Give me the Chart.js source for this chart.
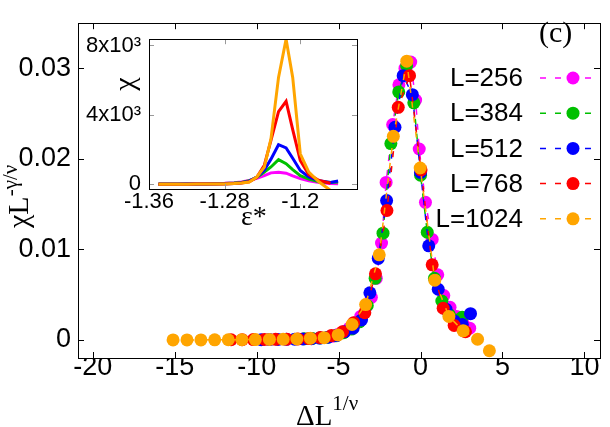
<!DOCTYPE html>
<html>
<head>
<meta charset="utf-8">
<script src="https://cdn.jsdelivr.net/npm/chart.js@4.4.1/dist/chart.umd.min.js"></script>
<style>
  html, body { margin: 0; padding: 0; background: #fff; }
  #wrap { position: relative; width: 610px; height: 427px; }
  #mainChart { position: absolute; left: 0; top: 0; }
  #insetChart { position: absolute; left: 80px; top: 18px; }
</style>
</head>
<body>
<div id="wrap">
  <canvas id="mainChart" width="610" height="427"></canvas>
  <canvas id="insetChart" width="285" height="212"></canvas>
</div>
<script>
'use strict';
// series names and colours
const seriesNames = ['L=256', 'L=384', 'L=512', 'L=768', 'L=1024'];
const seriesColors = ['#ff00ff', '#00c000', '#0000ff', '#ff0000', '#ffa500'];

// main plot: scaled data, x = ΔL^(1/ν), y = χL^(-γ/ν)
const x256 = [-5.4, -5.05, -4.7, -4.35, -4.0, -3.65, -3.3, -3.0, -2.7, -2.38, -2.1, -1.7, -1.32, -0.95, -0.6, -0.3, -0.08, 0.3, 0.71, 1.05, 1.42, 1.8, 2.2, 2.6, 3.0];
const y256 = [0.0004, 0.0006, 0.0009, 0.0013, 0.0019, 0.0026, 0.0037, 0.0047, 0.0068, 0.0107, 0.0174, 0.0238, 0.0282, 0.0300, 0.0307, 0.0265, 0.0211, 0.0152, 0.0111, 0.0072, 0.0049, 0.0036, 0.0026, 0.0018, 0.0013];
const x384 = [-7.09, -6.61, -6.13, -5.65, -5.17, -4.69, -4.21, -3.73, -3.25, -2.77, -2.29, -1.81, -1.33, -0.85, -0.41, 0.0, 0.41, 0.85, 1.3, 1.75, 2.15, 2.54];
const y384 = [0.00012, 0.00016, 0.00022, 0.0003, 0.00045, 0.0008, 0.0012, 0.0020, 0.0038, 0.0068, 0.0118, 0.0217, 0.0274, 0.0303, 0.0262, 0.0182, 0.0119, 0.0068, 0.0043, 0.0028, 0.0022, 0.0025];
const x512 = [-9.72, -9.21, -8.7, -8.19, -7.68, -7.17, -6.66, -6.15, -5.64, -5.13, -4.62, -4.11, -3.6, -3.09, -2.58, -2.07, -1.56, -1.06, -0.5, 0.0, 0.5, 1.08, 1.55, 2.05, 2.55, 3.05];
const y512 = [0.00003, 0.00004, 0.00005, 0.00006, 0.00008, 0.0001, 0.00013, 0.0002, 0.0003, 0.00048, 0.0009, 0.0013, 0.0022, 0.0052, 0.0090, 0.0154, 0.0235, 0.0292, 0.0271, 0.0185, 0.0104, 0.0056, 0.0034, 0.0021, 0.0017, 0.0029];
const x768 = [-11.56, -10.88, -10.2, -9.52, -8.84, -8.16, -7.48, -6.8, -6.12, -5.44, -4.76, -4.08, -3.4, -2.75, -2.05, -1.36, -0.67, 0.03, 0.71, 1.38, 2.05, 2.74];
const y768 = [0.00002, 0.00003, 0.00004, 0.00005, 0.00006, 0.00008, 0.00011, 0.00015, 0.00026, 0.00048, 0.0009, 0.0019, 0.0030, 0.0073, 0.0143, 0.0257, 0.0292, 0.0188, 0.0083, 0.0035, 0.0016, 0.0009];
const x1024 = [-15.1, -14.25, -13.4, -12.56, -11.73, -10.9, -10.08, -9.22, -8.38, -7.55, -6.72, -5.88, -5.03, -4.18, -3.35, -2.52, -1.66, -0.84, -0.02, 0.87, 1.73, 2.6, 3.48, 4.2];
const y1024 = [0.0, 0.0, 0.0, 0.00001, 0.00002, 0.00003, 0.00004, 0.00005, 0.00007, 0.0001, 0.00018, 0.00025, 0.00055, 0.0017, 0.0039, 0.0094, 0.0225, 0.0308, 0.019, 0.0066, 0.0026, 0.001, 0.00007, -0.0012];

const mainX = [x256, x384, x512, x768, x1024];
const mainY = [y256, y384, y512, y768, y1024];
const mainXTicks = [-20, -15, -10, -5, 0, 5, 10];
const mainYTicks = [0, 0.01, 0.02, 0.03];
const mainYTickLabels = ['0', '0.01', '0.02', '0.03'];

// inset: raw susceptibility χ against ε*
const insetEps = [-1.350, -1.340, -1.330, -1.320, -1.310, -1.300, -1.290, -1.280, -1.270, -1.262, -1.254, -1.246, -1.238, -1.231, -1.223, -1.215, -1.208, -1.200, -1.191, -1.180, -1.168, -1.160];
const chi256 = [20, 20, 25, 25, 30, 35, 45, 60, 90, 130, 220, 350, 500, 660, 690, 640, 490, 330, 200, 100, 50, 30];
const chi384 = [15, 15, 15, 20, 20, 25, 30, 40, 70, 110, 200, 400, 700, 1000, 1420, 1190, 850, 500, 300, 150, 110, 130];
const chi512 = [10, 10, 10, 15, 15, 20, 25, 30, 50, 90, 180, 420, 820, 1450, 2280, 2100, 1500, 800, 430, 200, 110, 190];
const chi768 = [10, 10, 10, 10, 15, 15, 20, 25, 40, 70, 150, 400, 1100, 2525, 4190, 4780, 3150, 1377, 560, 220, 60, null];
const chi1024 = [10, 10, 10, 10, 15, 15, 20, 25, 40, 70, 130, 420, 990, 2620, 6160, 8360, 6160, 1760, 700, 130, -350, null];
const insetChi = [chi256, chi384, chi512, chi768, chi1024];
const insetXTicks = [-1.36, -1.28, -1.2];
const insetXTickLabels = ['-1.36', '-1.28', '-1.2'];
const insetYTicks = [0, 4000, 8000];
const insetYTickLabels = ['0', '4x10³', '8x10³'];

// frame with inward ticks on all four sides
const frameTicks = {
  id: 'frameTicks',
  afterDraw(chart, args, opts) {
    const ctx = chart.ctx;
    const a = chart.chartArea;
    const xs = chart.scales.x;
    const ys = chart.scales.y;
    const len = opts.len;
    ctx.save();
    ctx.lineWidth = 1;
    ctx.strokeStyle = opts.tickColor;
    ctx.beginPath();
    xs.ticks.forEach(function (t) {
      const px = Math.round(xs.getPixelForValue(t.value)) + 0.5;
      ctx.moveTo(px, a.bottom); ctx.lineTo(px, a.bottom - len);
      ctx.moveTo(px, a.top); ctx.lineTo(px, a.top + len);
    });
    ys.ticks.forEach(function (t) {
      const py = Math.round(ys.getPixelForValue(t.value)) + 0.5;
      ctx.moveTo(a.left, py); ctx.lineTo(a.left + len, py);
      ctx.moveTo(a.right, py); ctx.lineTo(a.right - len, py);
    });
    ctx.stroke();
    ctx.strokeStyle = '#000';
    ctx.strokeRect(Math.round(a.left) + 0.5, Math.round(a.top) + 0.5, Math.round(a.right - a.left), Math.round(a.bottom - a.top));
    ctx.restore();
  }
};

// text with a raised superscript
function drawSup(ctx, x, y, base, sup, baseFont, supFont, rise) {
  ctx.font = baseFont;
  ctx.fillText(base, x, y);
  const w = ctx.measureText(base).width;
  ctx.font = supFont;
  ctx.fillText(sup, x + w, y - rise);
}

// axis titles, panel tag and legend of the main plot
const mainDecor = {
  id: 'mainDecor',
  afterDraw(chart) {
    const ctx = chart.ctx;
    ctx.save();
    ctx.fillStyle = '#000';
    ctx.textBaseline = 'alphabetic';
    ctx.textAlign = 'left';
    drawSup(ctx, 296, 425, 'ΔL', '1/ν', '29px "Liberation Serif"', '21px "Liberation Serif"', 15);

    ctx.save();
    ctx.translate(28, 228);
    ctx.rotate(-Math.PI / 2);
    drawSup(ctx, 0, 0, 'χL', '-γ/ν', '30px "Liberation Serif"', '21px "Liberation Serif"', 11);
    ctx.restore();

    ctx.font = '30px "Liberation Serif"';
    ctx.fillText('(c)', 539, 42);

    // legend
    ctx.font = '26px "Liberation Sans"';
    ctx.textAlign = 'right';
    ctx.textBaseline = 'middle';
    for (let i = 0; i < seriesNames.length; i++) {
      const ly = 78 + 35.2 * i;
      ctx.fillStyle = '#000';
      ctx.fillText(seriesNames[i], 523, ly + 1);
      ctx.strokeStyle = seriesColors[i];
      ctx.lineWidth = 1.5;
      ctx.setLineDash([6, 9]);
      ctx.beginPath();
      ctx.moveTo(540, ly);
      ctx.lineTo(600, ly);
      ctx.stroke();
      ctx.setLineDash([]);
      ctx.fillStyle = seriesColors[i];
      ctx.beginPath();
      ctx.arc(573, ly, 6.5, 0, Math.PI * 2);
      ctx.fill();
    }
    ctx.restore();
  }
};

const insetDecor = {
  id: 'insetDecor',
  afterDraw(chart) {
    const ctx = chart.ctx;
    ctx.save();
    ctx.fillStyle = '#000';
    ctx.textAlign = 'left';
    ctx.textBaseline = 'alphabetic';
    ctx.font = '28px "Liberation Serif"';
    ctx.fillText('ε*', 161, 207);
    ctx.translate(46, 66);
    ctx.rotate(-Math.PI / 2);
    ctx.textAlign = 'center';
    ctx.textBaseline = 'middle';
    ctx.font = '30px "Liberation Serif"';
    ctx.fillText('χ', 0, 0);
    ctx.restore();
  }
};

function buildMainDatasets() {
  const sets = [];
  for (let i = 0; i < seriesNames.length; i++) {
    const pts = mainX[i].map(function (x, j) { return { x: x, y: mainY[i][j] }; });
    sets.push({
      label: seriesNames[i],
      data: pts,
      showLine: true,
      borderColor: seriesColors[i],
      backgroundColor: seriesColors[i],
      borderWidth: 1.5,
      borderDash: [6, 9],
      pointRadius: 6.5,
      pointBorderWidth: 0,
      pointBackgroundColor: seriesColors[i],
      order: seriesNames.length - 1 - i
    });
  }
  return sets;
}

function buildInsetDatasets() {
  const sets = [];
  for (let i = 0; i < seriesNames.length; i++) {
    const pts = insetEps.map(function (e, j) { return { x: e, y: insetChi[i][j] }; });
    sets.push({
      label: seriesNames[i],
      data: pts,
      showLine: true,
      spanGaps: false,
      borderColor: seriesColors[i],
      borderWidth: 3,
      pointRadius: 0,
      order: seriesNames.length - 1 - i
    });
  }
  return sets;
}

const numFont = { family: 'Liberation Sans', size: 27 };

new Chart(document.getElementById('mainChart'), {
  type: 'scatter',
  data: { datasets: buildMainDatasets() },
  options: {
    responsive: false,
    animation: false,
    devicePixelRatio: 1,
    events: [],
    layout: { padding: { left: 0, top: 12, right: 10, bottom: 0 } },
    plugins: {
      legend: { display: false },
      tooltip: { enabled: false },
      frameTicks: { len: 6, tickColor: '#000' }
    },
    scales: {
      x: {
        type: 'linear',
        min: -20.9,
        max: 10.95,
        grid: { display: false, drawTicks: false },
        border: { display: false },
        afterBuildTicks: function (scale) { scale.ticks = mainXTicks.map(function (v) { return { value: v }; }); },
        afterFit: function (scale) { scale.height = 69; },
        ticks: { color: '#000', font: numFont, padding: -7, maxRotation: 0, autoSkip: false }
      },
      y: {
        type: 'linear',
        min: -0.002,
        max: 0.035,
        grid: { display: false, drawTicks: false },
        border: { display: false },
        afterBuildTicks: function (scale) { scale.ticks = mainYTicks.map(function (v) { return { value: v }; }); },
        afterFit: function (scale) { scale.width = 78; },
        ticks: {
          color: '#000', font: numFont, padding: 7, autoSkip: false,
          callback: function (v) { return mainYTickLabels[mainYTicks.indexOf(v)]; }
        }
      }
    }
  },
  plugins: [frameTicks, mainDecor]
});

const insetFont = { family: 'Liberation Sans', size: 22 };

new Chart(document.getElementById('insetChart'), {
  type: 'scatter',
  data: { datasets: buildInsetDatasets() },
  options: {
    responsive: false,
    animation: false,
    devicePixelRatio: 1,
    events: [],
    layout: { padding: { left: 0, top: 19, right: 8, bottom: 0 } },
    plugins: {
      legend: { display: false },
      tooltip: { enabled: false },
      frameTicks: { len: 5, tickColor: '#999' }
    },
    scales: {
      x: {
        type: 'linear',
        min: -1.36,
        max: -1.14,
        grid: { display: false, drawTicks: false },
        border: { display: false },
        afterBuildTicks: function (scale) { scale.ticks = insetXTicks.map(function (v) { return { value: v }; }); },
        afterFit: function (scale) { scale.height = 41; },
        ticks: {
          color: '#000', font: insetFont, padding: 0, maxRotation: 0, autoSkip: false,
          callback: function (v) { return insetXTickLabels[insetXTicks.indexOf(v)]; }
        }
      },
      y: {
        type: 'linear',
        min: -270,
        max: 8360,
        grid: { display: false, drawTicks: false },
        border: { display: false },
        afterBuildTicks: function (scale) { scale.ticks = insetYTicks.map(function (v) { return { value: v }; }); },
        afterFit: function (scale) { scale.width = 69; },
        ticks: {
          color: '#000', font: insetFont, padding: 8, autoSkip: false,
          callback: function (v) { return insetYTickLabels[insetYTicks.indexOf(v)]; }
        }
      }
    }
  },
  plugins: [frameTicks, insetDecor]
});
</script>
</body>
</html>
